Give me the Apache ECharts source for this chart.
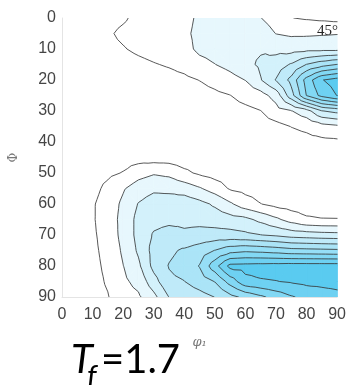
<!DOCTYPE html>
<html>
<head>
<meta charset="utf-8">
<script src="https://cdn.jsdelivr.net/npm/echarts@6.0.0/dist/echarts.min.js"></script>
<style>
html, body { margin: 0; padding: 0; background: #ffffff; }
#chart { width: 349px; height: 385px; }
</style>
</head>
<body>
<div id="chart"></div>
<script>
// ODF section at φ2 = 45°: sample positions in degrees
const phi1Grid = [0, 5, 10, 15, 20, 25, 30, 35, 40, 45, 50, 55, 60, 65, 70, 75, 80, 85, 90];
const PhiGrid  = [0, 5, 10, 15, 20, 25, 30, 35, 40, 45, 50, 55, 60, 65, 70, 75, 80, 85, 90];

// Orientation density, one list per Φ row (values along φ1 = 0 … 90)
const rowPhi00 = [0.5, 0.55, 0.6, 0.75, 0.9, 1.2, 1.35, 1.5, 1.75, 2.15, 2.3, 2.4, 2.3, 2.02, 1.6, 1.02, 0.9, 0.8, 0.7];
const rowPhi05 = [0.5, 0.6, 0.7, 0.9, 1.15, 1.3, 1.45, 1.6, 1.85, 2.2, 2.4, 2.5, 2.6, 2.5, 1.98, 1.85, 1.85, 1.9, 1.95];
const rowPhi10 = [0.45, 0.55, 0.65, 0.8, 0.95, 1.15, 1.3, 1.45, 1.7, 2.2, 2.35, 2.5, 2.75, 2.9, 2.7, 2.6, 2.7, 2.7, 2.7];
const rowPhi15 = [0.4, 0.45, 0.5, 0.55, 0.65, 0.8, 0.95, 1.08, 1.3, 1.7, 1.98, 2.3, 2.75, 3.15, 3.5, 4.1, 5.03, 5.6, 6.03];
const rowPhi20 = [0.35, 0.4, 0.45, 0.5, 0.55, 0.6, 0.6, 0.7, 0.8, 1.02, 1.3, 1.65, 2.02, 2.95, 4.05, 5.3, 7.4, 8.95, 9.4];
const rowPhi25 = [0.3, 0.35, 0.4, 0.4, 0.45, 0.45, 0.5, 0.5, 0.55, 0.65, 0.8, 0.98, 1.35, 1.6, 2.4, 4.6, 7.03, 8.3, 9.02];
const rowPhi30 = [0.3, 0.3, 0.35, 0.35, 0.35, 0.4, 0.4, 0.4, 0.45, 0.5, 0.55, 0.6, 0.75, 0.98, 1.6, 1.95, 2.6, 3.95, 4.3];
const rowPhi35 = [0.3, 0.3, 0.3, 0.3, 0.3, 0.3, 0.35, 0.35, 0.35, 0.4, 0.4, 0.45, 0.5, 0.6, 0.7, 1.02, 1.2, 1.6, 1.8];
const rowPhi40 = [0.3, 0.3, 0.3, 0.3, 0.3, 0.3, 0.3, 0.3, 0.3, 0.3, 0.35, 0.35, 0.4, 0.45, 0.5, 0.6, 0.7, 0.75, 0.8];
const rowPhi45 = [0.3, 0.3, 0.3, 0.4, 0.6, 0.6, 0.55, 0.55, 0.5, 0.45, 0.35, 0.3, 0.25, 0.2, 0.2, 0.2, 0.3, 0.4, 0.5];
const rowPhi50 = [0.35, 0.45, 0.6, 0.8, 1.05, 1.6, 1.9, 1.75, 1.2, 0.85, 0.6, 0.5, 0.4, 0.35, 0.3, 0.3, 0.35, 0.4, 0.4];
const rowPhi55 = [0.35, 0.5, 0.7, 1.25, 1.9, 2.5, 2.8, 2.75, 2.55, 2.1, 1.55, 0.9, 0.7, 0.6, 0.5, 0.45, 0.4, 0.4, 0.4];
const rowPhi60 = [0.35, 0.55, 0.9, 1.45, 2.2, 3.05, 3.5, 3.5, 3.6, 3.3, 2.85, 2.15, 1.45, 1.02, 0.7, 0.55, 0.5, 0.5, 0.5];
const rowPhi65 = [0.35, 0.55, 0.9, 1.5, 2.3, 3.3, 3.7, 3.75, 3.8, 3.7, 3.55, 3.4, 3.25, 2.75, 2.2, 1.6, 1.15, 1.05, 1.04];
const rowPhi70 = [0.35, 0.5, 0.85, 1.4, 2.3, 3.3, 4.1, 4.4, 4.15, 4.35, 4.4, 4.35, 4.2, 4.02, 3.85, 3.6, 3.5, 3.4, 3.35];
const rowPhi75 = [0.3, 0.45, 0.8, 1.3, 2.15, 3.15, 4.35, 4.8, 5.15, 5.5, 6.03, 6.6, 6.8, 6.7, 6.55, 6.35, 6.3, 6.25, 6.2];
const rowPhi80 = [0.3, 0.4, 0.75, 1.2, 1.98, 2.8, 4.3, 5.05, 5.4, 6.05, 7.6, 9.3, 9.35, 9.4, 9.45, 9.5, 9.5, 9.5, 9.5];
const rowPhi85 = [0.3, 0.35, 0.7, 1.1, 1.8, 2.3, 3.6, 4.8, 4.98, 5.5, 6.03, 7.4, 8.7, 8.9, 8.97, 9.1, 9.25, 9.3, 9.35];
const rowPhi90 = [0.3, 0.35, 0.65, 0.95, 1.6, 1.85, 2.7, 4.02, 4.3, 4.6, 5.02, 5.7, 6.25, 6.8, 7.4, 7.9, 8.3, 8.5, 8.7];

// Contour levels and the fill used above each filled level
const lineLevels = [1, 2, 3, 4, 5, 6, 7, 8, 9];
const bandLevels = [2, 3, 4, 5, 6, 7, 8, 9];
const bandColors = ['#e7f7fd', '#d3f1fb', '#bfeaf9', '#abe4f7', '#96def6', '#82d8f4', '#6ed1f2', '#5acbf0'];

const density = [rowPhi00, rowPhi05, rowPhi10, rowPhi15, rowPhi20, rowPhi25, rowPhi30,
  rowPhi35, rowPhi40, rowPhi45, rowPhi50, rowPhi55, rowPhi60, rowPhi65, rowPhi70,
  rowPhi75, rowPhi80, rowPhi85, rowPhi90];

// ---- marching triangles on the sample grid (each cell split at its centre) ----
function cellTriangles(i, j) {
  const x0 = phi1Grid[j], x1 = phi1Grid[j + 1];
  const y0 = PhiGrid[i], y1 = PhiGrid[i + 1];
  const a = [x0, y0, density[i][j]];
  const b = [x1, y0, density[i][j + 1]];
  const c = [x1, y1, density[i + 1][j + 1]];
  const d = [x0, y1, density[i + 1][j]];
  const m = [(x0 + x1) / 2, (y0 + y1) / 2, (a[2] + b[2] + c[2] + d[2]) / 4];
  return { corners: [a, b, c, d], tris: [[a, b, m], [b, c, m], [c, d, m], [d, a, m]] };
}

function crossPoint(a, b, L) {
  let p = a, q = b;
  if (p[0] > q[0] || (p[0] === q[0] && p[1] > q[1])) { p = b; q = a; }
  const t = (L - p[2]) / (q[2] - p[2]);
  return [p[0] + t * (q[0] - p[0]), p[1] + t * (q[1] - p[1])];
}

function clipAbove(poly, L) {
  const out = [];
  for (let k = 0; k < poly.length; k++) {
    const a = poly[k], b = poly[(k + 1) % poly.length];
    const ia = a[2] >= L, ib = b[2] >= L;
    if (ia) out.push([a[0], a[1]]);
    if (ia !== ib) out.push(crossPoint(a, b, L));
  }
  return out;
}

function levelSegments(L) {
  const segs = [];
  for (let i = 0; i < PhiGrid.length - 1; i++) {
    for (let j = 0; j < phi1Grid.length - 1; j++) {
      const { tris } = cellTriangles(i, j);
      for (const tri of tris) {
        const pts = [];
        for (let k = 0; k < 3; k++) {
          const a = tri[k], b = tri[(k + 1) % 3];
          if ((a[2] >= L) !== (b[2] >= L)) pts.push(crossPoint(a, b, L));
        }
        if (pts.length === 2) segs.push(pts);
      }
    }
  }
  return segs;
}

function chainSegments(segs) {
  const key = p => p[0].toFixed(4) + ',' + p[1].toFixed(4);
  const ends = new Map();
  segs.forEach((s, idx) => {
    for (const p of s) {
      const k = key(p);
      if (!ends.has(k)) ends.set(k, []);
      ends.get(k).push(idx);
    }
  });
  const used = new Array(segs.length).fill(false);
  const lines = [];
  for (let s = 0; s < segs.length; s++) {
    if (used[s]) continue;
    used[s] = true;
    const line = [segs[s][0], segs[s][1]];
    for (const atEnd of [true, false]) {
      for (;;) {
        const p = atEnd ? line[line.length - 1] : line[0];
        const kp = key(p);
        const next = (ends.get(kp) || []).find(c => !used[c]);
        if (next === undefined) break;
        used[next] = true;
        const sg = segs[next];
        const q = key(sg[0]) === kp ? sg[1] : sg[0];
        if (atEnd) line.push(q); else line.unshift(q);
      }
    }
    lines.push(line);
  }
  return lines;
}

function renderBand(params, api) {
  const L = api.value(2);
  const color = bandColors[bandLevels.indexOf(L)];
  const style = { fill: color, stroke: color, lineWidth: 0.8 };
  const children = [];
  for (let i = 0; i < PhiGrid.length - 1; i++) {
    for (let j = 0; j < phi1Grid.length - 1; j++) {
      const { corners, tris } = cellTriangles(i, j);
      const nAbove = corners.filter(c => c[2] >= L).length;
      if (nAbove === 0) continue;
      if (nAbove === 4) {
        children.push({ type: 'polygon', shape: { points: corners.map(c => api.coord([c[0], c[1]])) }, style });
        continue;
      }
      for (const tri of tris) {
        const poly = clipAbove(tri, L);
        if (poly.length >= 3) {
          children.push({ type: 'polygon', shape: { points: poly.map(p => api.coord(p)) }, style });
        }
      }
    }
  }
  return { type: 'group', children };
}

function renderContour(params, api) {
  const L = api.value(2);
  const lines = chainSegments(levelSegments(L));
  return {
    type: 'group',
    children: lines.map(line => ({
      type: 'polyline',
      shape: { points: line.map(p => api.coord(p)) },
      style: { fill: null, stroke: '#3a3a3a', lineWidth: 0.85, lineJoin: 'round', lineCap: 'round' }
    }))
  };
}

const chart = echarts.init(document.getElementById('chart'), null, { renderer: 'canvas' });

const tickFont = { fontFamily: 'Liberation Sans', fontSize: 16, color: '#454545' };

chart.setOption({
  animation: false,
  backgroundColor: '#ffffff',
  grid: { left: 59, right: 10, top: 18, bottom: 88 },
  xAxis: {
    type: 'value', min: 0, max: 90, interval: 10,
    name: 'φ₁', nameLocation: 'middle', nameGap: 39,
    nameTextStyle: { fontFamily: 'DejaVu Serif', fontStyle: 'italic', fontSize: 13, color: '#777777' },
    axisLine: { show: true, onZero: false, lineStyle: { color: '#e4e4e4', width: 1 } },
    axisTick: { show: false },
    splitLine: { show: false },
    axisLabel: Object.assign({ margin: 10 }, tickFont)
  },
  yAxis: {
    type: 'value', min: 0, max: 90, interval: 10, inverse: true,
    name: 'Φ', nameLocation: 'middle', nameGap: 42,
    nameTextStyle: { fontFamily: 'DejaVu Serif', fontSize: 12, color: '#777777' },
    axisLine: { show: true, onZero: false, lineStyle: { color: '#e4e4e4', width: 1 } },
    axisTick: { show: false },
    splitLine: { show: false },
    axisLabel: Object.assign({ margin: 6 }, tickFont)
  },
  series: [
    {
      type: 'custom', name: 'bands', coordinateSystem: 'cartesian2d', silent: true, clip: true,
      encode: { x: 0, y: 1 },
      data: bandLevels.map(L => [0, 0, L]),
      renderItem: renderBand, z: 1
    },
    {
      type: 'custom', name: 'contours', coordinateSystem: 'cartesian2d', silent: true, clip: true,
      encode: { x: 0, y: 1 },
      data: lineLevels.map(L => [0, 0, L]),
      renderItem: renderContour, z: 2
    }
  ],
  graphic: [
    { type: 'text', x: 338, y: 31, z: 10,
      style: { text: '45°', font: '15px "Liberation Serif"', fill: '#262626', align: 'right', verticalAlign: 'middle' } },
    { type: 'text', x: 71, y: 360, z: 10,
      style: { text: 'T', font: 'italic 40px Lato', fill: '#000000', align: 'left', verticalAlign: 'middle' } },
    { type: 'text', x: 87, y: 377, z: 10,
      style: { text: 'f', font: 'italic 30px Lato', fill: '#000000', align: 'left', verticalAlign: 'middle' } },
    { type: 'text', x: 101, y: 360, z: 10,
      style: { text: '=1.7', font: '40px Lato', fill: '#000000', align: 'left', verticalAlign: 'middle' } }
  ]
});
</script>
</body>
</html>
